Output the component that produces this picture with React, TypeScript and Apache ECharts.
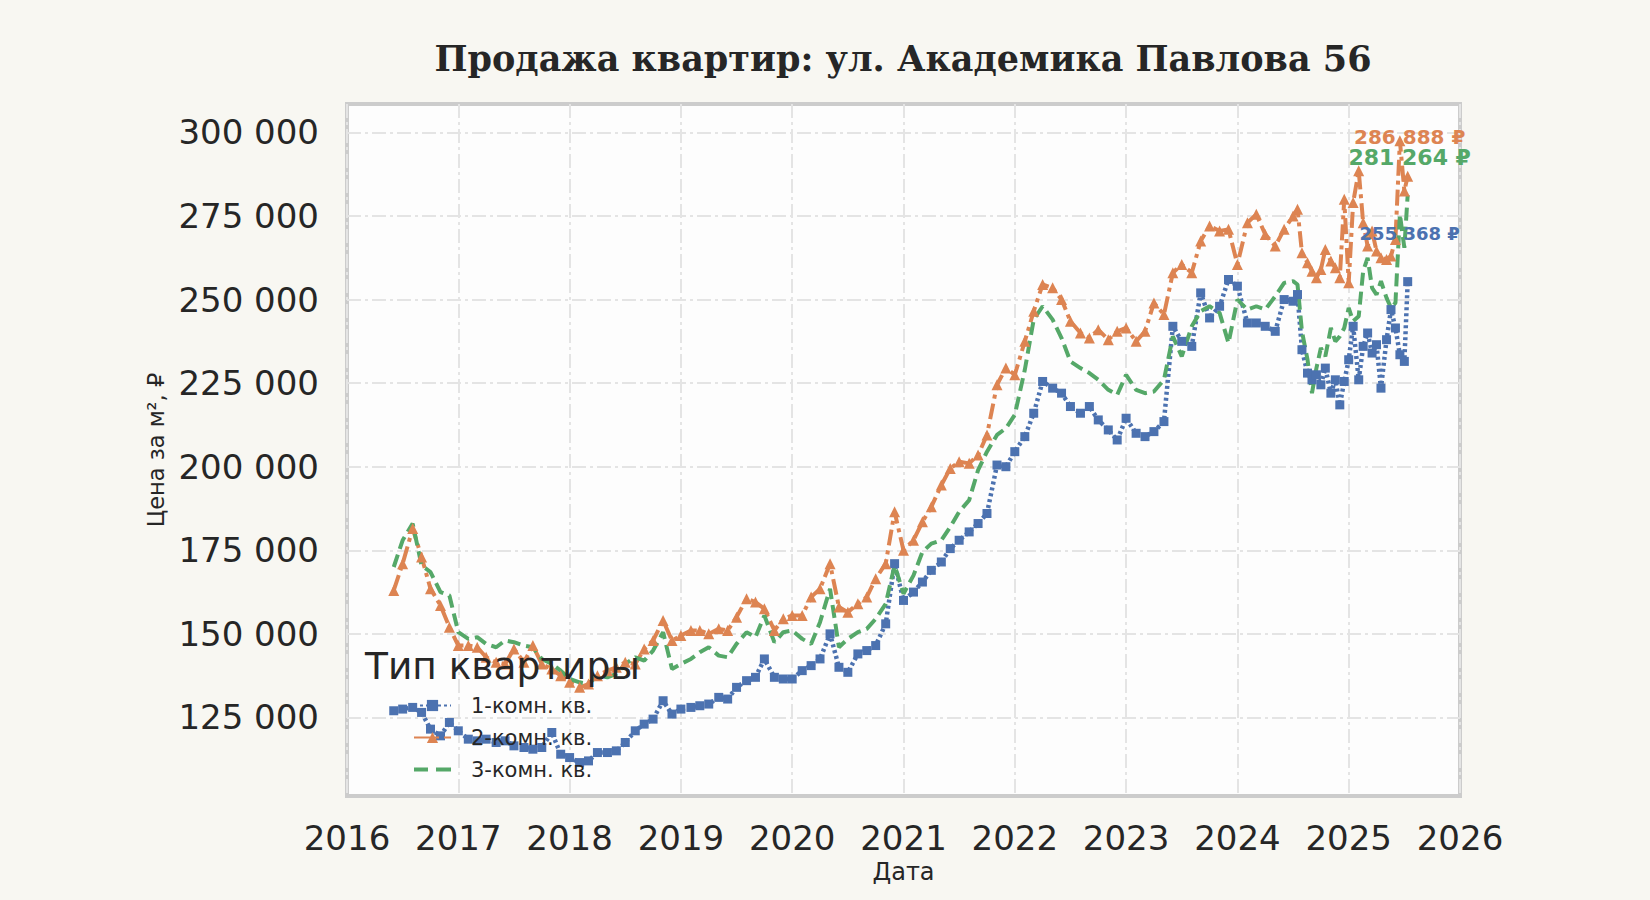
import React, { useEffect, useRef } from "react";
import * as echarts from "echarts";

// Decimal-year dates of the observations
const dates = [
  2016.42, 2016.5, 2016.59, 2016.67, 2016.75, 2016.84, 2016.92, 2017.0, 2017.09, 2017.17,
  2017.25, 2017.34, 2017.42, 2017.5, 2017.59, 2017.67, 2017.75, 2017.84, 2017.92, 2018.0,
  2018.09, 2018.17, 2018.25, 2018.34, 2018.42, 2018.5, 2018.59, 2018.67, 2018.75, 2018.84,
  2018.92, 2019.0, 2019.09, 2019.17, 2019.25, 2019.34, 2019.42, 2019.5, 2019.59, 2019.67,
  2019.75, 2019.84, 2019.92, 2020.0, 2020.09, 2020.17, 2020.25, 2020.34, 2020.42, 2020.5,
  2020.59, 2020.67, 2020.75, 2020.84, 2020.92, 2021.0, 2021.09, 2021.17, 2021.25, 2021.34,
  2021.42, 2021.5, 2021.59, 2021.67, 2021.75, 2021.84, 2021.92, 2022.0, 2022.09, 2022.17,
  2022.25, 2022.34, 2022.42, 2022.5, 2022.59, 2022.67, 2022.75, 2022.84, 2022.92, 2023.0,
  2023.09, 2023.17, 2023.25, 2023.34, 2023.42, 2023.5, 2023.59, 2023.67, 2023.75, 2023.84,
  2023.92, 2024.0, 2024.09, 2024.17, 2024.25, 2024.34, 2024.42, 2024.5,
  2024.54, 2024.58, 2024.63, 2024.67, 2024.71, 2024.75, 2024.79, 2024.84, 2024.88, 2024.92,
  2024.96, 2025.0, 2025.04, 2025.09, 2025.13, 2025.17, 2025.21, 2025.25, 2025.29, 2025.34,
  2025.38, 2025.42, 2025.46, 2025.5, 2025.53,
];

// Price per m², thousands of roubles
const oneRoom = [
  127.0, 127.5, 128.0, 126.5, 121.5, 119.5, 123.5, 121.0, 118.5, 118.0,
  118.5, 117.5, 118.0, 116.5, 116.0, 115.5, 116.0, 120.5, 114.0, 113.0,
  111.5, 112.0, 114.5, 114.5, 115.0, 117.5, 121.0, 123.0, 124.5, 130.0,
  126.0, 127.5, 128.0, 128.5, 129.0, 131.0, 130.5, 134.0, 136.0, 137.0,
  142.5, 137.0, 136.5, 136.5, 139.0, 140.5, 142.5, 150.0, 140.0, 138.5,
  144.0, 145.0, 146.5, 153.0, 171.0, 160.0, 162.5, 165.5, 169.0, 171.5,
  175.5, 178.0, 180.5, 183.0, 186.0, 200.5, 200.0, 204.5, 209.0, 216.0,
  225.5, 223.5, 222.0, 218.0, 216.0, 218.0, 214.0, 211.0, 208.0, 214.5,
  210.0, 209.0, 210.5, 213.5, 242.0, 237.5, 236.0, 252.0, 244.5, 248.0,
  256.0, 254.0, 243.0, 243.0, 242.0, 240.5, 250.0, 249.5,
  251.5, 235.0, 228.0, 226.0, 227.5, 224.5, 229.5, 222.0, 226.0, 218.5,
  225.5, 232.0, 242.0, 226.0, 236.0, 240.0, 234.0, 236.5, 223.5, 238.0,
  247.0, 241.5, 233.5, 231.5, 255.368,
];

const twoRoom = [
  163.0, 171.0, 181.5, 173.0, 163.5, 158.5, 152.0, 146.5, 146.5, 146.0,
  143.0, 141.5, 141.0, 145.5, 141.5, 146.5, 141.0, 139.5, 137.5, 135.5,
  134.0, 135.0, 137.5, 139.0, 140.0, 141.5, 141.0, 145.5, 148.0, 154.0,
  148.0, 149.5, 151.0, 151.0, 150.0, 151.5, 151.0, 155.0, 160.5, 159.5,
  157.5, 151.0, 154.5, 155.5, 155.5, 161.0, 163.5, 171.0, 158.0, 156.5,
  159.0, 161.0, 166.5, 171.0, 186.5, 175.0, 178.0, 183.5, 188.0, 194.5,
  199.5, 201.5, 201.0, 203.5, 209.5, 224.5, 229.5, 227.5, 237.5, 246.5,
  254.5, 253.5, 250.0, 243.5, 240.0, 238.5, 241.0, 238.0, 240.5, 241.5,
  237.5, 240.5, 249.0, 245.5, 258.0, 260.5, 258.0, 267.5, 272.0, 270.5,
  271.0, 260.5, 273.0, 275.5, 269.5, 266.0, 271.0, 275.0,
  277.0, 264.0, 261.0, 258.5, 256.5, 259.0, 265.0, 261.5, 259.5, 256.5,
  280.0, 255.0, 279.0, 288.5, 273.0, 266.0, 270.5, 264.5, 262.5, 262.0,
  263.0, 268.0, 297.5, 282.5, 286.888,
];

const threeRoom = [
  170.0, 178.0, 183.0, 170.5, 168.5, 162.5, 161.5, 150.5, 148.5, 149.0,
  147.0, 146.0, 148.0, 147.5, 146.5, 146.0, 142.5, 141.0, 139.0, 136.5,
  135.5, 135.0, 137.5, 137.0, 138.0, 141.0, 143.0, 142.0, 145.0, 150.5,
  139.5, 141.0, 142.5, 144.5, 146.0, 143.5, 143.0, 147.0, 150.5, 149.0,
  155.5, 147.5, 150.5, 151.0, 148.5, 147.0, 153.5, 163.5, 146.0, 148.5,
  150.5, 151.5, 154.5, 159.0, 170.5, 162.0, 167.5, 174.5, 177.0, 178.0,
  182.0, 186.5, 190.0, 199.0, 204.5, 209.5, 211.5, 215.5, 229.0, 244.0,
  248.0, 244.0, 238.5, 231.5, 229.5, 228.0, 226.0, 223.0, 221.5, 227.5,
  223.0, 222.0, 222.5, 226.0, 239.0, 233.0, 242.0, 246.5, 248.0, 246.0,
  237.0, 250.0, 247.0, 248.0, 247.0, 251.0, 255.0, 255.5,
  254.5, 240.5, 232.0, 222.0, 229.5, 235.5, 233.0, 241.5, 237.5, 239.0,
  241.5, 247.5, 243.5, 245.0, 258.5, 262.5, 253.5, 251.5, 255.5, 250.5,
  247.5, 249.0, 275.5, 265.5, 281.264,
];

const seriesNames = ["1-комн. кв.", "2-комн. кв.", "3-комн. кв."];
const seriesColors = ["#4c72b0", "#dd8452", "#55a868"];
const yTicks = [125000, 150000, 175000, 200000, 225000, 250000, 275000, 300000];
const xTicks = [2016, 2017, 2018, 2019, 2020, 2021, 2022, 2023, 2024, 2025, 2026];

const TEXT = "#262626";
const GRID_LINE = "#e4e4e4";
// legend glyph for the dashed (marker-less) series: two dashes in a 37x14 box
const DASH_ICON =
  "path://M0,0h0.01v0.01h-0.01zM0,5h14v4h-14zM22,5h15v4h-15zM36.99,13.99h0.01v0.01h-0.01z";

const fmt = (v: number) =>
  Math.round(v)
    .toString()
    .replace(/\B(?=(\d{3})+(?!\d))/g, " ");

const toPairs = (vals: number[]) => dates.map((d, i) => [d, Math.round(vals[i] * 1000)]);

function endLabel(vals: number[], color: string, fontSize: number, offset: number[]) {
  const last = vals.length - 1;
  const v = Math.round(vals[last] * 1000);
  return {
    silent: true,
    symbol: "circle",
    symbolSize: 0,
    data: [{ coord: [dates[last], v] }],
    label: {
      show: true,
      position: "inside",
      offset,
      formatter: fmt(v) + " ₽",
      color,
      fontSize,
      fontWeight: "bold",
      fontFamily: "DejaVu Sans",
    },
  };
}

export default function App() {
  const ref = useRef<HTMLDivElement>(null);

  useEffect(() => {
    if (!ref.current) return;
    const chart = echarts.init(ref.current, undefined, { renderer: "svg" });

    const option: any = {
      animation: false,
      backgroundColor: "#f8f7f2",
      textStyle: { fontFamily: "DejaVu Sans" },
      grid: {
        left: 347,
        right: 190,
        top: 104,
        bottom: 104,
        show: true,
        backgroundColor: "#fdfdfd",
        borderColor: "#cccccc",
        borderWidth: 4,
        outerBoundsMode: "none",
      },
      graphic: [
        {
          type: "text",
          x: 903,
          y: 58,
          z: 100,
          style: {
            text: "Продажа квартир: ул. Академика Павлова 56",
            font: 'bold 35px "DejaVu Serif"',
            fill: TEXT,
            align: "center",
            verticalAlign: "middle",
          },
        },
        {
          type: "text",
          x: 365,
          y: 666,
          z: 100,
          style: {
            text: "Тип квартиры",
            font: '37.5px "DejaVu Sans"',
            fill: TEXT,
            align: "left",
            verticalAlign: "middle",
          },
        },
      ],
      legend: {
        orient: "vertical",
        left: 413,
        top: 695,
        padding: 0,
        itemWidth: 37,
        itemHeight: 14,
        itemGap: 11,
        data: [
          { name: seriesNames[0] },
          { name: seriesNames[1] },
          { name: seriesNames[2], icon: DASH_ICON },
        ],
        textStyle: {
          fontSize: 21,
          lineHeight: 20,
          color: TEXT,
          fontFamily: "DejaVu Sans",
          padding: [0, 0, 0, 15],
        },
      },
      xAxis: {
        type: "value",
        min: xTicks[0],
        max: xTicks[xTicks.length - 1],
        interval: 1,
        name: "Дата",
        nameLocation: "middle",
        nameGap: 64,
        nameTextStyle: { fontSize: 24, color: TEXT, fontFamily: "DejaVu Sans" },
        axisLine: { show: false },
        axisTick: { show: false },
        axisLabel: {
          fontSize: 34,
          color: TEXT,
          margin: 25,
          fontFamily: "DejaVu Sans",
          formatter: (v: number) => String(v),
        },
        splitLine: {
          show: true,
          lineStyle: { color: GRID_LINE, width: 2, type: [14, 4, 3, 4] },
        },
      },
      yAxis: {
        type: "value",
        min: 101500,
        max: 308500,
        name: "Цена за м², ₽",
        nameLocation: "middle",
        nameGap: 180,
        nameRotate: 90,
        nameTextStyle: { fontSize: 22.5, color: TEXT, fontFamily: "DejaVu Sans" },
        axisLine: { show: false },
        axisTick: { show: false, customValues: yTicks },
        axisLabel: {
          customValues: yTicks,
          fontSize: 34,
          color: TEXT,
          margin: 28,
          fontFamily: "DejaVu Sans",
          formatter: (v: number) => fmt(v),
        },
        splitLine: {
          show: true,
          lineStyle: { color: GRID_LINE, width: 2, type: [14, 4, 3, 4] },
        },
      },
      series: [
        {
          name: seriesNames[0],
          type: "line",
          data: toPairs(oneRoom),
          symbol: "rect",
          symbolSize: 9,
          showAllSymbol: true,
          color: seriesColors[0],
          itemStyle: { color: seriesColors[0] },
          lineStyle: { color: seriesColors[0], width: 4.5, type: [3, 3] },
          markPoint: endLabel(oneRoom, seriesColors[0], 18, [2, -48]),
        },
        {
          name: seriesNames[1],
          type: "line",
          data: toPairs(twoRoom),
          symbol: "triangle",
          symbolSize: 11,
          showAllSymbol: true,
          color: seriesColors[1],
          itemStyle: { color: seriesColors[1] },
          lineStyle: { color: seriesColors[1], width: 4, type: [16, 5, 4, 5] },
          markPoint: endLabel(twoRoom, seriesColors[1], 20, [2, -39]),
        },
        {
          name: seriesNames[2],
          type: "line",
          data: toPairs(threeRoom),
          symbol: "none",
          color: seriesColors[2],
          itemStyle: { color: seriesColors[2] },
          lineStyle: { color: seriesColors[2], width: 4, type: [13, 6] },
          markPoint: endLabel(threeRoom, seriesColors[2], 22, [2, -38]),
        },
      ],
    };

    chart.setOption(option);
    return () => chart.dispose();
  }, []);

  return (
    <div
      ref={ref}
      style={{ position: "fixed", left: 0, top: 0, width: 1650, height: 900 }}
    />
  );
}
